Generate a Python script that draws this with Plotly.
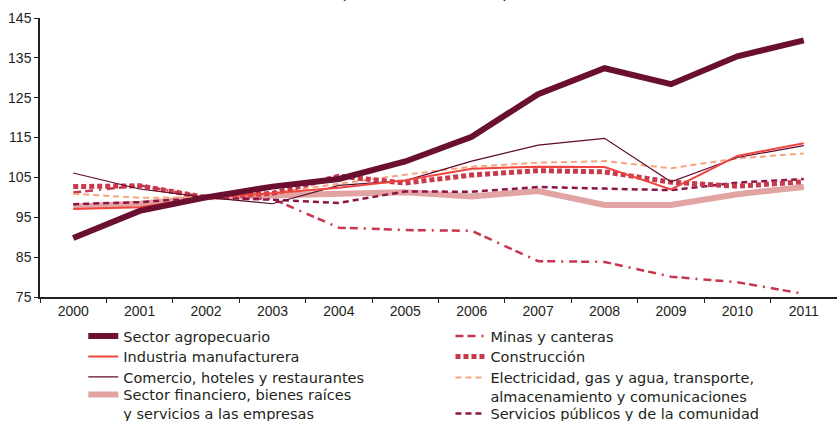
import plotly.graph_objects as go

years = ["2000", "2001", "2002", "2003", "2004", "2005", "2006", "2007", "2008", "2009", "2010", "2011"]

agropecuario = [89.8, 96.6, 100, 102.7, 104.6, 109.0, 115.2, 125.9, 132.4, 128.4, 135.4, 139.4]
industria = [97.1, 97.5, 100, 101.0, 102.4, 104.3, 107.2, 107.7, 107.6, 102.0, 110.4, 113.6]
comercio = [106.1, 102.1, 100, 98.4, 103.0, 104.2, 109.1, 113.1, 114.8, 103.9, 110.0, 113.0]
financiero = [97.7, 98.4, 100, 100.3, 100.9, 101.3, 100.2, 101.6, 98.1, 98.1, 100.8, 102.6]
minas = [101.2, 103.0, 100, 99.6, 92.4, 91.8, 91.6, 84.0, 83.8, 80.1, 78.7, 75.8]
construccion = [102.7, 102.9, 100, 101.0, 105.3, 103.6, 105.6, 106.7, 106.4, 103.8, 102.8, 103.9]
electricidad = [100.9, 99.9, 100, 101.1, 103.4, 105.7, 107.7, 108.7, 109.1, 107.3, 109.8, 111.0]
servicios = [98.3, 98.8, 100, 99.4, 98.6, 101.5, 101.4, 102.6, 102.2, 101.8, 103.7, 104.6]

y_ticks = [75, 85, 95, 105, 115, 125, 135, 145]
title_text = "(Índice 2002=100)"

fig = go.Figure()

def add(name, vals, color, width, dash, legend):
    fig.add_trace(go.Scatter(
        x=years, y=vals, name=name, mode="lines",
        line=dict(color=color, width=width, dash=dash),
        legend=legend, hoverinfo="skip",
    ))

add("Sector financiero, bienes raíces<br>y servicios a las empresas", financiero, "#e2a3a3", 6, "solid", "legend4")
add("Minas y canteras", minas, "#c8354e", 2.5, "8px,4px,8px,6px,2px,6px", "legend5")
add("Servicios públicos y de la comunidad", servicios, "#8c1548", 2.5, "6px,4px", "legend8")
add("Electricidad, gas y agua, transporte,<br>almacenamiento y comunicaciones", electricidad, "#f8a37c", 2, "6px,4px", "legend7")
add("Construcción", construccion, "#c63a4c", 5, "5px,3px", "legend6")
add("Comercio, hoteles y restaurantes", comercio, "#5c0a2a", 1.2, "solid", "legend3")
add("Industria manufacturera", industria, "#f0443c", 2, "solid", "legend2")
add("Sector agropecuario", agropecuario, "#6a0f30", 6, "solid", "legend")

legend_font = dict(family="DejaVu Sans", size=14.5, color="#231f20")

# plot area: top 18 px, bottom 297 px
def py(pix):
    return (297 - pix) / 279.0

def leg(xp, ypix):
    return dict(
        x=xp, xanchor="left", y=py(ypix), yanchor="middle",
        orientation="v", font=legend_font, bgcolor="rgba(0,0,0,0)",
        valign="top", tracegroupgap=0, itemwidth=30,
    )

xl = 0.0543
xr = 0.515

fig.update_layout(
    width=837, height=421,
    margin=dict(l=40, r=0, t=18, b=124, autoexpand=False),
    paper_bgcolor="white", plot_bgcolor="white",
    showlegend=True,
    font=dict(family="Liberation Sans", size=14, color="#231f20"),
    xaxis=dict(
        type="category", range=[-0.5, 11.5],
        showline=True, linecolor="#231f20", linewidth=1.5,
        ticks="outside", ticklen=4, tickcolor="#231f20", tickson="boundaries",
        showgrid=False, zeroline=False,
        tickfont=dict(family="Liberation Sans", size=14, color="#231f20"),
    ),
    yaxis=dict(
        range=[75, 145], tickvals=y_ticks,
        showline=True, linecolor="#231f20", linewidth=1.5,
        ticks="outside", ticklen=4, tickcolor="#231f20",
        showgrid=False, zeroline=False,
        tickfont=dict(family="Liberation Sans", size=14, color="#231f20"),
    ),
    legend=leg(xl, 336.0),
    legend2=leg(xl, 356.5),
    legend3=leg(xl, 377.0),
    legend4=leg(xl, 404.0),
    legend5=leg(xr, 336.0),
    legend6=leg(xr, 356.5),
    legend7=leg(xr, 387.0),
    legend8=leg(xr, 413.5),
    annotations=[dict(
        text=title_text, xref="paper", yref="paper", x=0.482, y=1,
        xanchor="center", yanchor="bottom", yshift=13, showarrow=False,
        font=dict(family="DejaVu Sans", size=18, color="#231f20"),
    )],
)

fig.write_html("out.html", config={"displayModeBar": False},
               post_script="document.body.style.margin='0';")
